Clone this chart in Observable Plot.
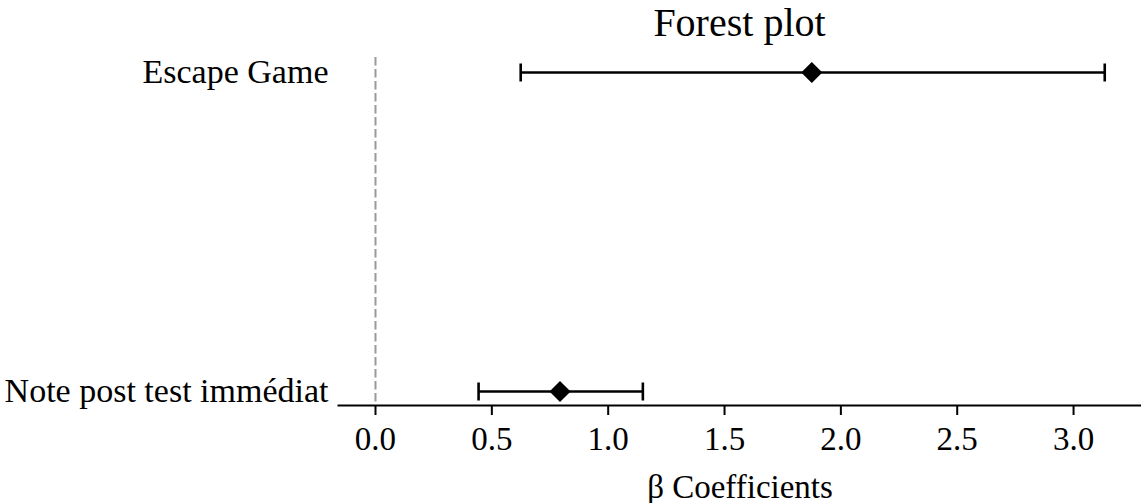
<!DOCTYPE html>
<html>
<head>
<meta charset="utf-8">
<script src="https://cdn.jsdelivr.net/npm/d3@7"></script>
<script src="https://cdn.jsdelivr.net/npm/@observablehq/plot@0.6"></script>
<style>
  html, body { margin: 0; padding: 0; background: #fff; }
  #title { font-family: "Liberation Serif", serif; font-size: 40px; line-height: 46px; height: 46px;
           margin-left: 338px; width: 803px; text-align: center; color: #000; }
  #chart svg { display: block; }
</style>
</head>
<body>
<div id="title">Forest plot</div>
<div id="chart"></div>
<script>
const variables = ["Escape Game", "Note post test immédiat"];
const estimates = [1.875, 0.793];
const ciLower = [0.624, 0.443];
const ciUpper = [3.134, 1.149];
const xTicks = [0, 0.5, 1.0, 1.5, 2.0, 2.5, 3.0];
const xLabel = "β Coefficients";

const data = variables.map((v, i) => ({name: v, est: estimates[i], lo: ciLower[i], hi: ciUpper[i]}));

const vbar = {
  draw(ctx, size) {
    const h = Math.sqrt(size / Math.PI);
    ctx.moveTo(0, -h);
    ctx.lineTo(0, h);
  }
};

const chart = Plot.plot({
  width: 1141,
  height: 457,
  marginLeft: 338,
  marginRight: 0,
  marginTop: 11,
  marginBottom: 98,
  style: {fontFamily: "Liberation Serif, serif", fontSize: "33px", color: "#000", background: "#fff"},
  x: {domain: [-0.159, 3.292]},
  y: {type: "point", domain: variables, padding: 0.045},
  marks: [
    Plot.ruleX([0], {stroke: "#999", strokeWidth: 2, strokeDasharray: "8.5,3.5"}),
    Plot.frame({anchor: "bottom", stroke: "#000", strokeWidth: 2}),
    Plot.axisX({ticks: xTicks, tickFormat: d3.format(".1f"), tickSize: 10, tickPadding: 11,
                strokeWidth: 2, fontSize: 33, label: xLabel, labelAnchor: "center", labelArrow: "none",
                labelOffset: 92}),
    Plot.axisY({tickSize: 0, tickPadding: 10, fontSize: 34, label: null}),
    Plot.ruleY(data, {y: "name", x1: "lo", x2: "hi", stroke: "#000", strokeWidth: 2.6}),
    Plot.dot(data, {y: "name", x: "lo", symbol: vbar, r: 9, stroke: "#000", strokeWidth: 2.6, fill: "none"}),
    Plot.dot(data, {y: "name", x: "hi", symbol: vbar, r: 9, stroke: "#000", strokeWidth: 2.6, fill: "none"}),
    Plot.dot(data, {y: "name", x: "est", symbol: "diamond2", r: 9.5, fill: "#000", stroke: "none"})
  ]
});
document.getElementById("chart").appendChild(chart);
</script>
</body>
</html>
